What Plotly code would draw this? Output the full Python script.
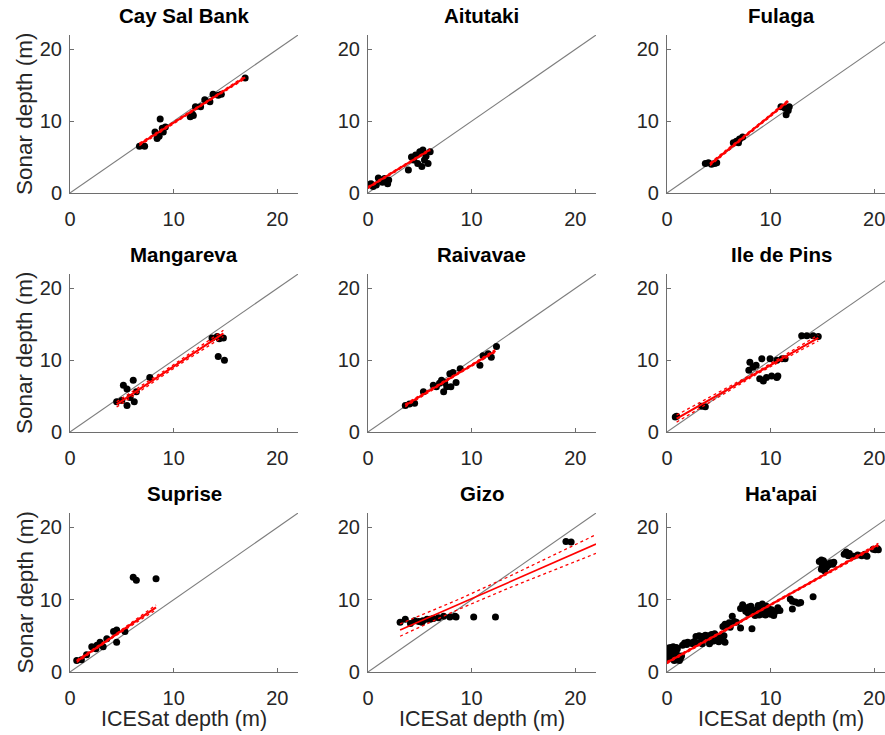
import numpy as np
import plotly.graph_objects as go

# ---------------- data ----------------
titles = ["Cay Sal Bank", "Aitutaki", "Fulaga",
          "Mangareva", "Raivavae", "Ile de Pins",
          "Suprise", "Gizo", "Ha'apai"]

cay_x = [6.7, 7.2, 8.4, 8.2, 8.7, 8.9, 9.2, 9.0, 8.6, 11.6, 11.8, 12.1, 12.6, 13.0, 13.5, 13.8, 14.6, 14.3, 11.9, 16.9]
cay_y = [6.5, 6.5, 7.6, 8.5, 10.3, 9.0, 9.2, 8.5, 7.9, 10.6, 11.0, 12.0, 12.0, 13.0, 12.7, 13.75, 13.75, 13.6, 10.8, 16.0]

ait_x = [0.0, 0.3, 0.5, 0.8, 1.2, 1.6, 1.9, 2.0, 1.4, 1.0, 3.9, 4.4, 4.6, 5.0, 5.3, 5.6, 5.8, 6.0, 5.45, 4.8, 5.2, 4.2]
ait_y = [1.1, 1.3, 0.9, 1.1, 1.8, 2.0, 1.3, 1.8, 1.5, 2.1, 3.2, 4.6, 5.3, 5.75, 6.0, 5.1, 4.1, 5.75, 4.6, 4.1, 3.7, 5.0]

ful_x = [3.7, 4.0, 4.3, 4.6, 4.8, 6.4, 6.7, 7.0, 7.3, 6.9, 11.0, 11.4, 11.7, 11.5, 11.8]
ful_y = [4.1, 4.2, 4.0, 4.1, 4.2, 7.0, 7.2, 7.5, 7.8, 7.0, 12.0, 11.8, 11.5, 10.9, 12.0]

man_x = [4.5, 5.15, 5.5, 6.1, 5.5, 6.2, 6.4, 5.0, 5.8, 7.7, 13.7, 14.2, 14.8, 14.3, 14.9, 14.4]
man_y = [4.2, 6.5, 6.0, 7.2, 3.7, 4.2, 5.6, 4.4, 4.8, 7.6, 13.1, 13.3, 13.1, 10.5, 10.0, 13.0]

rai_x = [3.6, 4.0, 4.5, 5.35, 6.3, 6.9, 7.4, 7.9, 8.2, 7.3, 7.6, 8.5, 8.0, 8.9, 10.8, 11.1, 11.9, 12.4, 11.6, 7.1, 6.6]
rai_y = [3.7, 3.9, 4.0, 5.6, 6.5, 6.8, 6.9, 8.1, 8.3, 5.6, 6.3, 6.9, 6.3, 8.8, 9.3, 10.6, 10.4, 11.9, 10.9, 7.2, 6.3]

ile_x = [0.93, 0.8, 3.35, 3.7, 8.0, 7.9, 8.3, 8.6, 9.15, 9.95, 8.95, 9.3, 9.6, 10.1, 10.6, 10.7, 11.1, 11.4, 13.0, 13.5, 14.1, 14.6, 10.6]
ile_y = [2.2, 2.1, 3.6, 3.5, 9.7, 8.6, 9.0, 9.3, 10.2, 10.2, 7.4, 7.1, 7.6, 7.8, 7.6, 7.8, 10.2, 10.2, 13.4, 13.4, 13.4, 13.3, 10.0]

sup_x = [0.65, 1.1, 2.1, 2.6, 2.9, 3.2, 3.55, 4.2, 4.5, 5.3, 4.5, 2.5, 1.6, 6.1, 6.4, 8.3]
sup_y = [1.6, 1.7, 3.5, 3.7, 4.1, 3.5, 4.6, 5.6, 5.8, 5.6, 4.1, 3.2, 2.4, 13.1, 12.7, 12.9]

giz_x = [3.1, 3.6, 4.1, 4.9, 5.3, 5.7, 6.0, 5.2, 6.8, 7.3, 7.9, 8.4, 8.5, 10.2, 12.3, 19.1, 19.6, 4.5, 6.3]
giz_y = [6.9, 7.3, 6.7, 7.0, 7.1, 7.3, 7.3, 6.9, 7.5, 7.7, 7.6, 7.7, 7.6, 7.6, 7.6, 18.05, 18.0, 7.1, 7.4]

haa_x = [0.1, 0.2, 0.3, 0.1, 0.2, 0.4, 0.5, 0.6, 0.3, 0.5, 0.7, 0.8, 0.9, 0.6, 1.0, 1.1, 1.2, 1.3, 0.9, 0.2,
         0.4, 1.4, 0.7, 0.1, 1.0,
         1.7, 2.0, 2.3, 2.6, 2.9, 3.2, 3.4, 1.9, 2.5, 1.5,
         2.8, 3.1, 3.4, 3.7, 4.0, 4.3, 4.6, 3.5, 3.9, 4.2, 4.5, 4.8, 5.0, 5.2, 5.4, 5.5, 5.6, 4.1,
         5.4, 5.6, 5.8, 6.0, 6.1, 6.3, 6.5, 6.7, 7.1, 8.2,
         7.1, 7.3, 7.5, 7.6, 7.8, 8.0, 8.1, 8.3, 8.4, 8.5, 8.7, 8.8, 9.0, 9.1, 9.2, 9.4, 9.5, 9.7,
         9.8, 10.0, 10.1, 10.3, 10.5, 10.7, 10.9, 8.9, 9.3, 7.9, 8.6, 9.6,
         11.9, 12.1, 12.4, 12.7, 12.9, 12.1, 14.1,
         14.7, 14.9, 15.1, 14.9, 15.2, 15.4, 15.6, 15.8, 16.0, 16.1, 15.3, 15.0,
         17.1, 17.3, 17.5, 17.6, 18.0, 18.4, 18.8, 19.1, 19.3, 19.9, 20.1, 20.3, 20.4]
haa_y = [2.9, 3.2, 3.4, 2.5, 2.2, 2.8, 3.1, 3.5, 2.0, 1.8, 2.4, 3.0, 3.4, 2.1, 1.7, 2.0, 1.6, 1.9, 2.6, 1.9,
         2.4, 2.2, 1.6, 3.3, 3.2,
         4.0, 4.1, 4.0, 4.2, 4.0, 4.1, 3.9, 3.8, 3.9, 3.7,
         4.9, 5.0, 4.9, 5.1, 5.0, 5.2, 5.3, 4.4, 4.5, 4.2, 4.3, 4.6, 4.2, 4.9, 4.4, 5.0, 4.1, 3.9,
         6.3, 6.6, 6.4, 6.8, 6.2, 7.7, 7.0, 6.9, 6.1, 6.0,
         8.8, 9.3, 8.9, 8.4, 8.2, 8.7, 9.1, 8.5, 8.0, 7.8, 8.3, 9.2, 8.7, 8.1, 9.4, 8.5, 7.9, 8.3,
         8.8, 8.0, 8.6, 7.8, 8.4, 8.9, 8.5, 7.9, 8.0, 9.0, 8.6, 9.1,
         10.1, 9.8, 9.7, 9.5, 9.6, 8.7, 10.4,
         15.3, 15.5, 15.4, 14.2, 14.0, 14.5, 14.8, 15.1, 14.9, 15.2, 15.0, 14.6,
         16.3, 16.6, 16.1, 16.4, 16.0, 16.2, 16.1, 16.3, 16.0, 17.0, 16.9, 17.1, 16.9]

xs = [cay_x, ait_x, ful_x, man_x, rai_x, ile_x, sup_x, giz_x, haa_x]
ys = [cay_y, ait_y, ful_y, man_y, rai_y, ile_y, sup_y, giz_y, haa_y]

# regression line + confidence band
fit_slope     = [0.915, 0.88, 1.165, 0.96, 0.874, 0.822, 0.975, 0.63, 0.80]
fit_intercept = [0.63, 0.75, -0.84, -0.48, 0.55, 1.10, 0.85, 3.85, 1.30]
fit_x0        = [6.7, 0.0, 4.15, 4.5, 3.6, 0.93, 0.65, 3.1, 0.0]
fit_x1        = [16.9, 6.0, 11.7, 14.8, 12.3, 14.6, 8.3, 22.0, 20.4]
ci_min        = [0.10, 0.10, 0.12, 0.25, 0.10, 0.18, 0.10, 0.69, 0.08]
ci_xc         = [11.5, 3.0, 8.0, 9.0, 8.0, 8.5, 3.0, 9.0, 8.0]
ci_slope      = [0.03, 0.03, 0.04, 0.06, 0.04, 0.06, 0.06, 0.085, 0.015]

one_to_one = [0, 22]
ticks = [0, 10, 20]
x_title = "ICESat depth (m)"
y_title = "Sonar depth (m)"

# ---------------- layout geometry ----------------
col_dom = [[0.0, 0.2798], [0.3656, 0.6454], [0.7325, 1.0]]
row_dom = [[0.752, 1.0], [0.3768, 0.6248], [0.0, 0.2496]]
col_xmax = [22, 22, 21.04]

axis_col = "#6e6e6e"
tick_col = "#262626"
font_fam = "Liberation Sans, Arial, sans-serif"

fig = go.Figure()
layout = dict(
    width=885, height=735,
    margin=dict(l=70, r=0, t=35, b=63),
    paper_bgcolor="white", plot_bgcolor="white",
    showlegend=False,
    font=dict(family=font_fam, color=tick_col),
)
annotations = []

for i in range(9):
    r, c = divmod(i, 3)
    k = "" if i == 0 else str(i + 1)
    xa, ya = "x" + k, "y" + k

    # 1:1 line
    fig.add_trace(go.Scatter(x=one_to_one, y=one_to_one, mode="lines",
                             line=dict(color="#7d7d7d", width=1.1),
                             xaxis=xa, yaxis=ya, hoverinfo="skip"))
    # points
    fig.add_trace(go.Scatter(x=xs[i], y=ys[i], mode="markers",
                             marker=dict(color="black", size=7),
                             xaxis=xa, yaxis=ya))
    # fit + CI
    xf = np.linspace(fit_x0[i], fit_x1[i], 60)
    yf = fit_slope[i] * xf + fit_intercept[i]
    hw = np.sqrt(ci_min[i] ** 2 + (ci_slope[i] * (xf - ci_xc[i])) ** 2)
    for yy in (yf + hw, yf - hw):
        fig.add_trace(go.Scatter(x=xf, y=yy, mode="lines",
                                 line=dict(color="red", width=1.3, dash="dot"),
                                 xaxis=xa, yaxis=ya, hoverinfo="skip"))
    fig.add_trace(go.Scatter(x=xf, y=yf, mode="lines",
                             line=dict(color="red", width=1.6 if i == 7 else 2.2),
                             xaxis=xa, yaxis=ya, hoverinfo="skip"))

    common = dict(showgrid=False, zeroline=False, showline=True,
                  linecolor=axis_col, linewidth=1,
                  ticks="inside", ticklen=4, tickcolor=axis_col,
                  tickvals=ticks, ticklabeloverflow="allow",
                  tickfont=dict(size=20, color=tick_col, family=font_fam))
    layout["xaxis" + k] = dict(domain=col_dom[c], anchor=ya, range=[0, col_xmax[c]],
                               ticklabelstandoff=8, **common)
    layout["yaxis" + k] = dict(domain=row_dom[r], anchor=xa, range=[0, 22],
                               ticklabelstandoff=3, **common)

    annotations.append(dict(text="<b>%s</b>" % titles[i], xref="paper", yref="paper",
                            x=(col_dom[c][0] + (col_dom[c][0] + 0.2798)) / 2,
                            y=row_dom[r][1], xanchor="center", yanchor="bottom",
                            yshift=6, showarrow=False,
                            font=dict(size=20.5, color="black", family=font_fam)))

for r in range(3):
    annotations.append(dict(text=y_title, xref="paper", yref="paper",
                            x=-0.0552, y=(row_dom[r][0] + row_dom[r][1]) / 2,
                            xanchor="center", yanchor="middle", textangle=-90,
                            showarrow=False, font=dict(size=22.5, color=tick_col, family=font_fam)))
for c in range(3):
    annotations.append(dict(text=x_title, xref="paper", yref="paper",
                            x=(col_dom[c][0] + col_dom[c][0] + 0.2798) / 2, y=-0.0675,
                            xanchor="center", yanchor="middle", yshift=-4,
                            showarrow=False, font=dict(size=21.5, color=tick_col, family=font_fam)))

layout["annotations"] = annotations
fig.update_layout(**layout)
fig.write_html("out.html")
